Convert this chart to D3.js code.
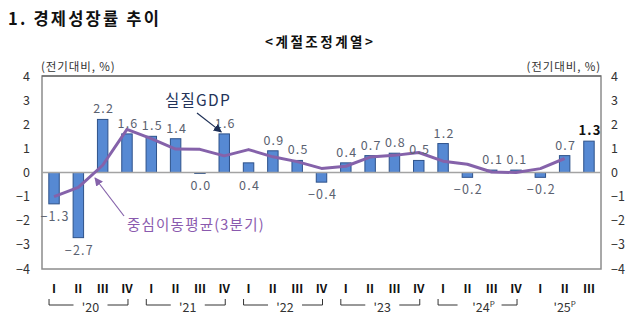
<!DOCTYPE html>
<html>
<head>
<meta charset="utf-8">
<script src="https://cdn.jsdelivr.net/npm/d3@7"></script>
<style>
  body { margin: 0; background: #fff; }
  text { font-family: "Noto Sans CJK KR", "Liberation Sans", sans-serif; }
</style>
</head>
<body>
<div id="chart"></div>
<script>
// 분기 (2020 I ~ 2025 III)
const quarters = ["20Q1","20Q2","20Q3","20Q4","21Q1","21Q2","21Q3","21Q4",
                  "22Q1","22Q2","22Q3","22Q4","23Q1","23Q2","23Q3","23Q4",
                  "24Q1","24Q2","24Q3","24Q4","25Q1","25Q2","25Q3"];
const qNames = ["Ⅰ","Ⅱ","Ⅲ","Ⅳ"];
const years = ["'20","'21","'22","'23","'24","'25"];
// 실질GDP 전기대비 성장률 (%)
const gdp = [-1.3, -2.7, 2.2, 1.6, 1.5, 1.4, -0.04, 1.6,
             0.4, 0.9, 0.5, -0.4, 0.4, 0.7, 0.8, 0.5,
             1.2, -0.2, 0.1, 0.1, -0.2, 0.7, 1.3];
const gdpLabels = ["−1.3","−2.7","2.2","1.6","1.5","1.4","0.0","1.6",
                   "0.4","0.9","0.5","−0.4","0.4","0.7","0.8","0.5",
                   "1.2","−0.2","0.1","0.1","−0.2","0.7","1.3"];
// 중심이동평균(3분기), 2020 I ~ 2025 II
const ma3 = [-1.0, -0.62, 0.3, 1.79, 1.4, 0.97, 0.96, 0.69,
             0.95, 0.65, 0.45, 0.17, 0.26, 0.64, 0.71, 0.83,
             0.47, 0.34, 0.02, 0.0, 0.16, 0.58];
const yTicks = [4, 3, 2, 1, 0, -1, -2, -3, -4];
const belowZero = [6, 8]; // 라벨을 0선 아래에 둔 분기

const W = 640, H = 321;
const m = { left: 42, right: 39, top: 76, bottom: 52 };
const svg = d3.select("#chart").append("svg").attr("width", W).attr("height", H);

const x = d3.scaleBand().domain(quarters).range([m.left, W - m.right]).paddingInner(0.57).paddingOuter(0.28);
const y = d3.scaleLinear().domain([-4, 4]).range([H - m.bottom, m.top]);
const cx = i => x(quarters[i]) + x.bandwidth() / 2;

// 제목
svg.append("text").attr("x", 8).attr("y", 25).attr("font-size", 16.5).attr("font-weight", "bold")
   .attr("letter-spacing", 2.2).attr("fill", "#111").text("1. 경제성장률 추이");
svg.append("text").attr("x", 265).attr("y", 47).attr("font-size", 13.5).attr("font-weight", "bold")
   .attr("letter-spacing", 2.5).attr("fill", "#111").text("<계절조정계열>");

// 단위
svg.append("text").attr("x", 41).attr("y", 71).attr("font-size", 11.5).attr("letter-spacing", 0.9)
   .attr("fill", "#333").text("(전기대비, %)");
svg.append("text").attr("x", W - m.right).attr("y", 71).attr("font-size", 11.5).attr("letter-spacing", 0.9)
   .attr("fill", "#333").attr("text-anchor", "end").text("(전기대비, %)");

// 테두리
svg.append("rect").attr("x", m.left).attr("y", y(4)).attr("width", W - m.left - m.right).attr("height", y(-4) - y(4))
   .attr("fill", "none").attr("stroke", "#8c8c8c").attr("stroke-width", 1.5);
svg.append("line").attr("x1", m.left).attr("x2", W - m.right).attr("y1", y(4)).attr("y2", y(4))
   .attr("stroke", "#555").attr("stroke-width", 1.2);

// y축 (좌/우)
const yl = svg.append("g").attr("transform", `translate(${m.left},0)`)
  .call(d3.axisLeft(y).tickValues(yTicks).tickSize(0).tickPadding(12).tickFormat(d => d < 0 ? "−" + (-d) : d));
const yr = svg.append("g").attr("transform", `translate(${W - m.right},0)`)
  .call(d3.axisRight(y).tickValues(yTicks).tickSize(0).tickPadding(10).tickFormat(d => d < 0 ? "−" + (-d) : d));
[yl, yr].forEach(g => {
  g.select(".domain").remove();
  g.selectAll("text").attr("font-size", 12.5).attr("fill", "#333").attr("font-family", "Liberation Sans, sans-serif");
});

// 막대
svg.selectAll("rect.bar").data(gdp).enter().append("rect").attr("class", "bar")
  .attr("x", (d, i) => x(quarters[i]))
  .attr("width", x.bandwidth())
  .attr("y", d => y(Math.max(0, d)))
  .attr("height", d => Math.abs(y(d) - y(0)))
  .attr("fill", "#5689d3").attr("stroke", "#2e528a").attr("stroke-width", 1);

// 0선
svg.append("line").attr("x1", m.left).attr("x2", W - m.right).attr("y1", y(0)).attr("y2", y(0))
   .attr("stroke", "#a3a3a3").attr("stroke-width", 1.5);

// 중심이동평균 선
svg.append("path").datum(ma3)
  .attr("d", d3.line().x((d, i) => cx(i)).y(d => y(d)))
  .attr("fill", "none").attr("stroke", "#8562aa").attr("stroke-width", 3).attr("stroke-linejoin", "round");

// 값 라벨
svg.selectAll("text.val").data(gdp).enter().append("text").attr("class", "val")
  .attr("x", (d, i) => cx(i) + 1)
  .attr("y", (d, i) => belowZero.includes(i) ? y(0) + 17 : (d >= 0 ? y(d) - 6 : y(d) + 17))
  .attr("text-anchor", "middle")
  .attr("font-family", "Liberation Sans, sans-serif")
  .attr("letter-spacing", 1.2)
  .attr("font-size", (d, i) => i === gdp.length - 1 ? 13 : 12.5)
  .attr("font-weight", (d, i) => i === gdp.length - 1 ? "bold" : "normal")
  .attr("fill", (d, i) => i === gdp.length - 1 ? "#111" : "#5a6170")
  .text((d, i) => gdpLabels[i]);

// 화살표
const defs = svg.append("defs");
[["navy", "#1d2f55"], ["purple", "#8562aa"]].forEach(([id, c]) => {
  defs.append("marker").attr("id", "ah-" + id).attr("viewBox", "0 0 10 10").attr("refX", 9).attr("refY", 5)
    .attr("markerWidth", 7).attr("markerHeight", 7).attr("orient", "auto")
    .append("path").attr("d", "M0,0 L10,5 L0,10 z").attr("fill", c);
});
svg.append("text").attr("x", 165).attr("y", 106).attr("font-size", 15.5).attr("letter-spacing", 1.3)
   .attr("fill", "#24345a").text("실질GDP");
svg.append("line").attr("x1", 197).attr("y1", 113).attr("x2", cx(7) - 3).attr("y2", y(1.6) - 2)
   .attr("stroke", "#1d2f55").attr("stroke-width", 1.2).attr("marker-end", "url(#ah-navy)");
svg.append("text").attr("x", 127).attr("y", 230).attr("font-size", 14.5).attr("letter-spacing", 1.2)
   .attr("fill", "#8a5aae").text("중심이동평균(3분기)");
svg.append("line").attr("x1", 124).attr("y1", 216).attr("x2", 95).attr("y2", 178)
   .attr("stroke", "#8562aa").attr("stroke-width", 1.2).attr("marker-end", "url(#ah-purple)");

// x축 라벨
svg.selectAll("text.q").data(quarters).enter().append("text").attr("class", "q")
  .attr("x", (d, i) => cx(i)).attr("y", 293).attr("text-anchor", "middle")
  .attr("font-family", "DejaVu Serif, serif").attr("font-weight", "bold").attr("font-size", 12).attr("fill", "#111")
  .text((d, i) => qNames[i % 4]);

years.forEach((yr, k) => {
  const i0 = k * 4, i1 = Math.min(k * 4 + 3, quarters.length - 1);
  const mid = k < 5 ? (cx(i0) + cx(i1)) / 2 : cx(i0 + 1);
  const t = svg.append("text").attr("x", mid + (k === 4 ? 4 : 0)).attr("y", 312).attr("text-anchor", "middle")
    .attr("font-size", 12.5).attr("fill", "#333").attr("font-family", "Liberation Sans, sans-serif").text(yr);
  if (k >= 4) t.append("tspan").attr("font-size", 8).attr("dy", -5).text("P");
  if (k < 5) {
    const xa = cx(i0) - 5, xb = cx(i1) + 1, yb = 305, gap = k === 4 ? 22 : 17;
    svg.append("path").attr("d", `M${xa},${yb - 6}V${yb}H${mid - gap}M${mid + gap},${yb}H${xb}V${yb - 6}`)
      .attr("fill", "none").attr("stroke", "#333").attr("stroke-width", 1);
  }
});
</script>
</body>
</html>
